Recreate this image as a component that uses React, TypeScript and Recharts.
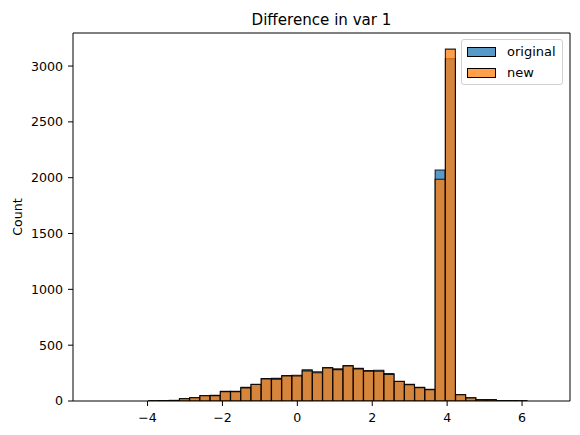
import React from 'react';
import { BarChart, Bar, XAxis, YAxis, Legend } from 'recharts';

// Histogram bin centres (bin width ≈ 0.273)
const binCenters = [
  -3.830, -3.557, -3.284, -3.011, -2.738, -2.465, -2.192, -1.919, -1.646, -1.373,
  -1.100, -0.827, -0.553, -0.280, -0.007, 0.266, 0.539, 0.812, 1.085, 1.358,
  1.631, 1.904, 2.177, 2.450, 2.724, 2.997, 3.270, 3.543, 3.816, 4.089,
  4.362, 4.635, 4.908, 5.181, 5.454, 5.727, 6.000,
];
const originalCounts = [
  2, 4, 5, 22, 30, 49, 50, 86, 86, 122,
  150, 202, 203, 228, 230, 280, 262, 300, 288, 318,
  292, 272, 276, 246, 177, 150, 122, 104, 2069, 3065,
  57, 29, 12, 12, 3, 3, 2,
];
const newCounts = [
  2, 3, 5, 20, 29, 47, 48, 84, 84, 118,
  148, 198, 196, 224, 224, 270, 253, 296, 281, 315,
  288, 268, 267, 237, 174, 147, 120, 102, 1986, 3152,
  56, 28, 11, 11, 3, 2, 2,
];
const xTicks = [-4, -2, 0, 2, 4, 6];
const yTicks = [0, 500, 1000, 1500, 2000, 2500, 3000];
const xDomain = [-5.99, 7.28];
const yDomain = [0, 3296];
const seriesNames = ['original', 'new'];
const titleText = 'Difference in var 1';
const yLabelText = 'Count';

const data = binCenters.map((x, i) => ({
  x,
  original: originalCounts[i],
  new: newCounts[i],
}));

const FONT = '"DejaVu Sans", sans-serif';
const BLUE = '#1f77b4';
const ORANGE = '#ff7f0e';
const legendColors = ['#5799c7', '#ff9f4a'];

const fmtMinus = (v: number) => String(v).replace('-', '\u2212');

const renderLegend = () => (
  <div
    style={{
      boxSizing: 'border-box',
      width: 102,
      height: 46,
      border: '1px solid #d0d0d0',
      borderRadius: 3,
      background: 'rgba(255,255,255,0.8)',
      fontFamily: FONT,
      fontSize: 13,
      color: '#000',
      position: 'relative',
    }}
  >
    {seriesNames.map((name, i) => (
      <div
        key={name}
        style={{
          position: 'absolute',
          left: 5,
          top: 6.5 + i * 21,
          display: 'flex',
          alignItems: 'center',
          height: 10,
          whiteSpace: 'nowrap',
        }}
      >
        <span
          style={{
            display: 'inline-block',
            width: 29,
            height: 10,
            background: legendColors[i],
            border: '1px solid #000',
            boxSizing: 'border-box',
          }}
        />
        <span style={{ marginLeft: 11, lineHeight: '10px' }}>{name}</span>
      </div>
    ))}
  </div>
);

const YLabel = (props: any) => {
  const vb = props.viewBox || { x: 0, y: 33, width: 73, height: 368 };
  const cy = vb.y + vb.height / 2;
  return (
    <text
      x={17}
      y={cy}
      transform={`rotate(-90, 17, ${cy})`}
      textAnchor="middle"
      dominantBaseline="central"
      fontFamily={FONT}
      fontSize={12.6}
      fill="#000"
    >
      {yLabelText}
    </text>
  );
};

export default function App() {
  const tickStyle = { fontFamily: FONT, fontSize: 12.6, fill: '#000' };
  return (
    <div style={{ position: 'absolute', left: 0, top: 0, width: 580, height: 435, background: '#fff' }}>
      <div
        style={{
          position: 'absolute',
          left: 73,
          top: 12,
          width: 497,
          textAlign: 'center',
          fontFamily: FONT,
          fontSize: 15.1,
          lineHeight: '16px',
          color: '#000',
        }}
      >
        {titleText}
      </div>
      <BarChart
        width={580}
        height={435}
        data={data}
        margin={{ top: 32, right: 9, bottom: 0, left: 0 }}
        barCategoryGap={0}
        barGap={0}
      >
        <XAxis
          xAxisId="a"
          dataKey="x"
          type="number"
          domain={xDomain}
          ticks={xTicks}
          tickFormatter={fmtMinus}
          allowDataOverflow
          height={34}
          tickSize={5}
          tickMargin={7}
          tick={tickStyle}
          stroke="#000"
          tickLine={{ stroke: '#000' }}
          axisLine={{ stroke: '#000' }}
        />
        <XAxis
          xAxisId="b"
          dataKey="x"
          type="number"
          orientation="top"
          domain={xDomain}
          ticks={xTicks}
          allowDataOverflow
          height={1}
          tick={false}
          tickLine={false}
          stroke="#000"
          axisLine={{ stroke: '#000' }}
        />
        <YAxis
          yAxisId="l"
          type="number"
          domain={yDomain}
          ticks={yTicks}
          allowDataOverflow
          width={73}
          tickSize={5}
          tickMargin={5}
          tick={tickStyle}
          tickLine={{ stroke: '#000' }}
          axisLine={{ stroke: '#000' }}
          label={<YLabel />}
        />
        <YAxis
          yAxisId="r"
          type="number"
          orientation="right"
          domain={yDomain}
          ticks={yTicks}
          allowDataOverflow
          width={1}
          tick={false}
          tickLine={false}
          stroke="#000"
          axisLine={{ stroke: '#000' }}
        />
        <Legend
          layout="vertical"
          align="center"
          verticalAlign="middle"
          content={renderLegend}
          wrapperStyle={{ position: 'absolute', left: 461, top: 39, width: 102, height: 46 }}
        />
        <Bar
          xAxisId="a"
          yAxisId="l"
          dataKey="original"
          name="original"
          fill={BLUE}
          fillOpacity={0.75}
          stroke="#000"
          strokeWidth={1.1}
          strokeOpacity={0.85}
          isAnimationActive={false}
        />
        <Bar
          xAxisId="b"
          yAxisId="r"
          dataKey="new"
          name="new"
          fill={ORANGE}
          fillOpacity={0.75}
          stroke="#000"
          strokeWidth={1.1}
          strokeOpacity={0.85}
          isAnimationActive={false}
        />
      </BarChart>
    </div>
  );
}
